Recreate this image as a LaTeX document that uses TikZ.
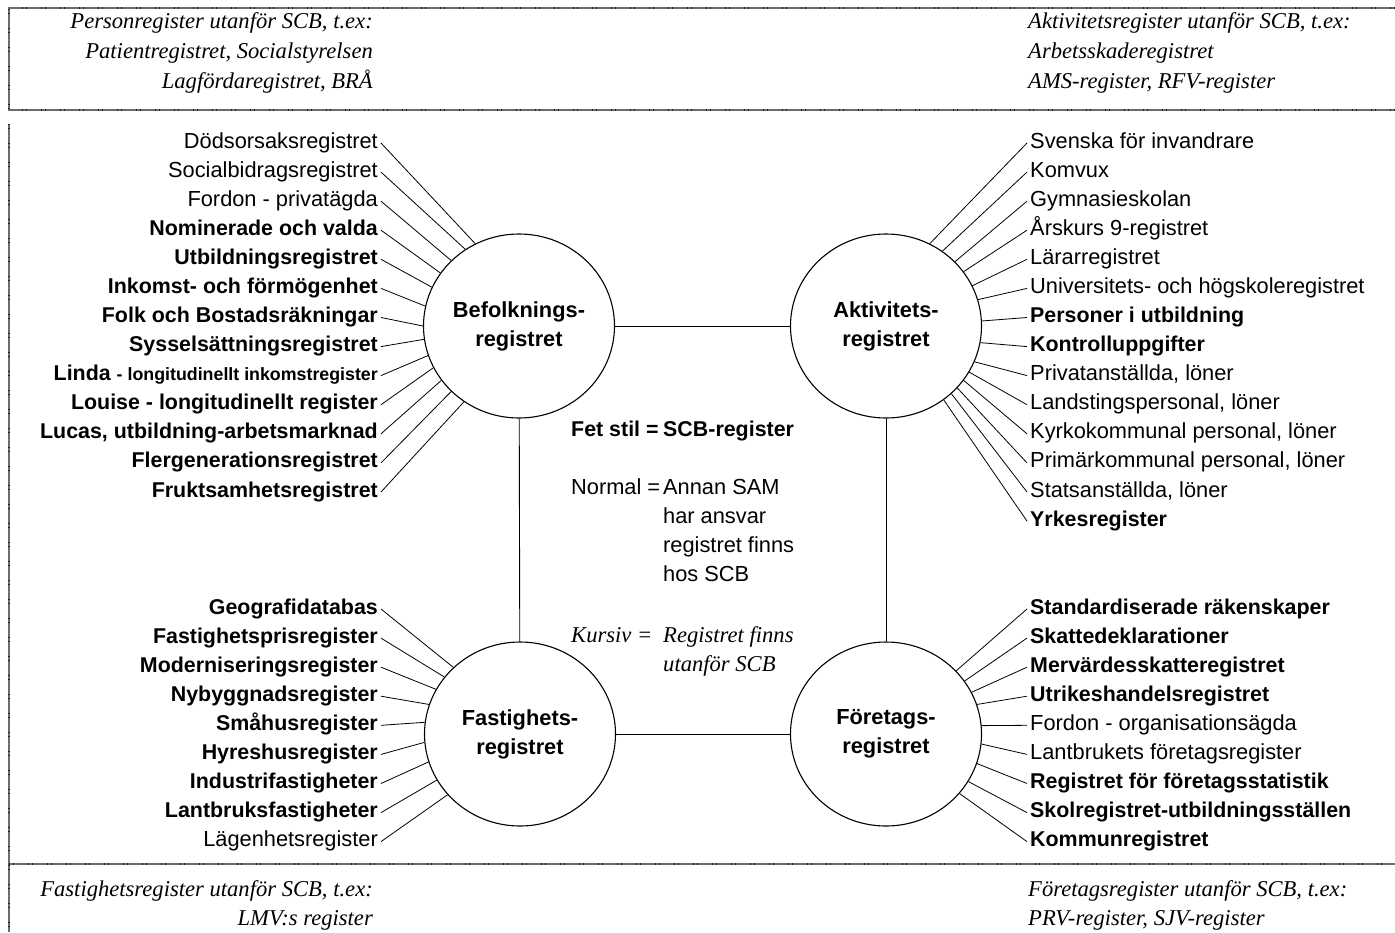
\documentclass[tikz,border=0pt]{standalone}
\usepackage{fontspec}
\setmainfont{Liberation Sans}
\newfontfamily\timesfont{Liberation Serif}
\usetikzlibrary{shapes.geometric}

\begin{document}
\begin{tikzpicture}[x=1pt,y=-1pt,
  reg/.style={font=\fontsize{21.8}{26}\selectfont, inner xsep=3pt, inner ysep=0pt,
              text height=15pt, text depth=5pt},
  scb/.style={reg, font=\fontsize{21.4}{26}\selectfont\bfseries},
  hub/.style={ellipse, draw, line width=1.1pt, minimum width=191pt, minimum height=184pt,
              inner sep=0pt, align=center, font=\fontsize{21.8}{29}\selectfont\bfseries},
  spoke/.style={line width=0.8pt},
  link/.style={line width=0.9pt},
  ext/.style={font=\fontsize{22.6}{26}\selectfont\timesfont\itshape, inner sep=0pt},
  legend/.style={font=\fontsize{21.8}{26}\selectfont, inner sep=0pt},
  frame/.style={draw=gray!85!black, line width=2.4pt},
  frameticks/.style={draw=gray!25!black, line width=2.8pt,
                     dash pattern=on 1pt off 3pt on 1pt off 14pt},
]
\useasboundingbox (0,0) rectangle (1395,932);

% page frame: top box, main area, bottom box
\foreach \s in {frame, frameticks} {
  \draw[\s] (1395,8) -- (9,8) -- (9,110) -- (1395,110);
  \draw[\s] (9,124) -- (9,932);
  \draw[\s] (9,864) -- (1395,864);
}

% external registers
\node[ext, anchor=base east] (tl1) at (373,28) {Personregister utanför SCB, t.ex:};
\node[ext, anchor=base east] (tl2) at (373,58) {Patientregistret, Socialstyrelsen};
\node[ext, anchor=base east] (tl3) at (373,88) {Lagfördaregistret, BRÅ};
\node[ext, anchor=base west] (tr1) at (1028,28) {Aktivitetsregister utanför SCB, t.ex:};
\node[ext, anchor=base west] (tr2) at (1028,58) {Arbetsskaderegistret};
\node[ext, anchor=base west] (tr3) at (1028,88) {AMS-register, RFV-register};
\node[ext, anchor=base east] (bl1) at (373,896) {Fastighetsregister utanför SCB, t.ex:};
\node[ext, anchor=base east] (bl2) at (373,925) {LMV:s register};
\node[ext, anchor=base west] (br1) at (1028,896) {Företagsregister utanför SCB, t.ex:};
\node[ext, anchor=base west] (br2) at (1028,925) {PRV-register, SJV-register};

% the four base registers
\node[hub] (bef) at (519,326) {Befolknings-\\registret};
\node[hub] (akt) at (886,326) {Aktivitets-\\registret};
\node[hub] (fas) at (520,734) {Fastighets-\\registret};
\node[hub] (for) at (886,734) {Företags-\\registret};

\draw[link] (bef) -- (akt);
\draw[link] (fas) -- (for);
\draw[link] (bef) -- (fas);
\draw[link] (akt) -- (for);

% legend
\node[legend, anchor=base west, font=\fontsize{21.4}{26}\selectfont\bfseries] (lg1) at (571,436) {Fet stil =};
\node[legend, anchor=base west, font=\fontsize{21.4}{26}\selectfont\bfseries] (lg2) at (663,436) {SCB-register};
\node[legend, anchor=base west] (lg3) at (571,494) {Normal =};
\node[legend, anchor=base west] (lg4) at (663,494) {Annan SAM};
\node[legend, anchor=base west] (lg5) at (663,523) {har ansvar};
\node[legend, anchor=base west] (lg6) at (663,552.5) {registret finns};
\node[legend, anchor=base west] (lg7) at (663,581.5) {hos SCB};
\node[ext, anchor=base west] (lg8) at (571,642.5) {Kursiv =};
\node[ext, anchor=base west] (lg9) at (663,642.5) {Registret finns};
\node[ext, anchor=base west] (lg10) at (663,671) {utanför SCB};

% Befolkningsregistret
\node[reg, anchor=east] (b1) at (381,143.0) {Dödsorsaksregistret};
\node[reg, anchor=east] (b2) at (381,172.1) {Socialbidragsregistret};
\node[reg, anchor=east] (b3) at (381,201.2) {Fordon - privatägda};
\node[scb, anchor=east] (b4) at (381,230.2) {Nominerade och valda};
\node[scb, anchor=east] (b5) at (381,259.3) {Utbildningsregistret};
\node[scb, anchor=east] (b6) at (381,288.4) {Inkomst- och förmögenhet};
\node[scb, anchor=east] (b7) at (381,317.5) {Folk och Bostadsräkningar};
\node[scb, anchor=east] (b8) at (381,346.6) {Sysselsättningsregistret};
\node[scb, anchor=east] (b9) at (381,375.6) {Linda {\fontsize{17.8}{20}\selectfont - longitudinellt inkomstregister}};
\node[scb, anchor=east] (b10) at (381,404.7) {Louise - longitudinellt register};
\node[scb, anchor=east] (b11) at (381,433.8) {Lucas, utbildning-arbetsmarknad};
\node[scb, anchor=east] (b12) at (381,462.9) {Flergenerationsregistret};
\node[scb, anchor=east] (b13) at (381,492.0) {Fruktsamhetsregistret};
\foreach \i/\a in {1/118.2, 2/125.5, 3/136.2, 4/146.2, 5/156.8, 6/168.3, 7/180.4,
                   8/188.8, 9/198.8, 10/206.4, 11/215.4, 12/224.4, 13/234.8}
  \draw[spoke] (b\i.east) -- (bef.\a);

% Aktivitetsregistret
\node[reg, anchor=west] (a1) at (1027,143.0) {Svenska för invandrare};
\node[reg, anchor=west] (a2) at (1027,172.1) {Komvux};
\node[reg, anchor=west] (a3) at (1027,201.2) {Gymnasieskolan};
\node[reg, anchor=west] (a4) at (1027,230.2) {Årskurs 9-registret};
\node[reg, anchor=west] (a5) at (1027,259.3) {Lärarregistret};
\node[reg, anchor=west] (a6) at (1027,288.4) {Universitets- och högskoleregistret};
\node[scb, anchor=west] (a7) at (1027,317.5) {Personer i utbildning};
\node[scb, anchor=west] (a8) at (1027,346.6) {Kontrolluppgifter};
\node[reg, anchor=west] (a9) at (1027,375.6) {Privatanställda, löner};
\node[reg, anchor=west] (a10) at (1027,404.7) {Landstingspersonal, löner};
\node[reg, anchor=west] (a11) at (1027,433.8) {Kyrkokommunal personal, löner};
\node[reg, anchor=west] (a12) at (1027,462.9) {Primärkommunal personal, löner};
\node[reg, anchor=west] (a13) at (1027,492.0) {Statsanställda, löner};
\node[scb, anchor=west] (a14) at (1027,521.1) {Yrkesregister};
\foreach \i/\a in {1/62, 2/53, 3/43, 4/35, 5/25, 6/16, 7/3,
                   8/-10, 9/-22, 10/-29, 11/-35, 12/-41, 13/-46, 14/-52}
  \draw[spoke] (a\i.west) -- (akt.\a);

% Fastighetsregistret
\node[scb, anchor=east] (f1) at (381,609.0) {Geografidatabas};
\node[scb, anchor=east] (f2) at (381,638.1) {Fastighetsprisregister};
\node[scb, anchor=east] (f3) at (381,667.2) {Moderniseringsregister};
\node[scb, anchor=east] (f4) at (381,696.2) {Nybyggnadsregister};
\node[scb, anchor=east] (f5) at (381,725.3) {Småhusregister};
\node[scb, anchor=east] (f6) at (381,754.4) {Hyreshusregister};
\node[scb, anchor=east] (f7) at (381,783.5) {Industrifastigheter};
\node[scb, anchor=east] (f8) at (381,812.6) {Lantbruksfastigheter};
\node[reg, anchor=east] (f9) at (381,841.6) {Lägenhetsregister};
\foreach \i/\a in {1/135, 2/143, 3/152, 4/162, 5/173, 6/185, 7/197, 8/209, 9/220}
  \draw[spoke] (f\i.east) -- (fas.\a);

% Företagsregistret
\node[scb, anchor=west] (c1) at (1027,609.0) {Standardiserade räkenskaper};
\node[scb, anchor=west] (c2) at (1027,638.1) {Skattedeklarationer};
\node[scb, anchor=west] (c3) at (1027,667.2) {Mervärdesskatteregistret};
\node[scb, anchor=west] (c4) at (1027,696.2) {Utrikeshandelsregistret};
\node[reg, anchor=west] (c5) at (1027,725.3) {Fordon - organisationsägda};
\node[reg, anchor=west] (c6) at (1027,754.4) {Lantbrukets företagsregister};
\node[scb, anchor=west] (c7) at (1027,783.5) {Registret för företagsstatistik};
\node[scb, anchor=west] (c8) at (1027,812.6) {Skolregistret-utbildningsställen};
\node[scb, anchor=west] (c9) at (1027,841.6) {Kommunregistret};
\foreach \i/\a in {1/42, 2/34, 3/26, 4/18, 5/5, 6/-6.5, 7/-18, 8/-30, 9/-39.5}
  \draw[spoke] (c\i.west) -- (for.\a);
\end{tikzpicture}
\end{document}
